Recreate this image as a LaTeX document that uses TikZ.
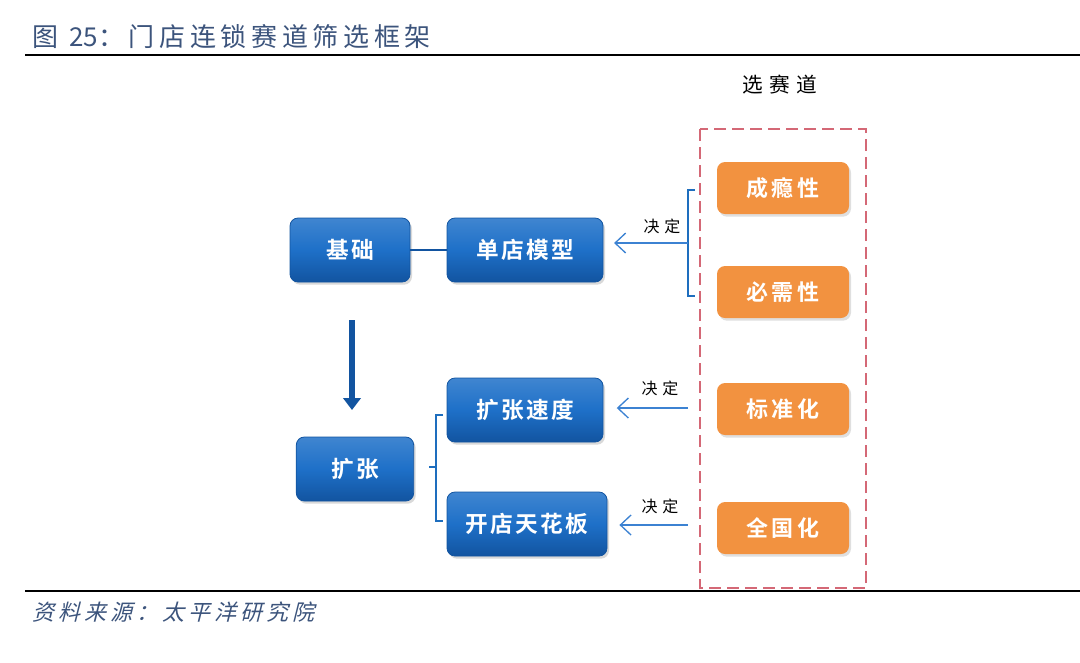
\documentclass[tikz,border=0pt]{standalone}
\usepackage{fontspec}
\setmainfont{Noto Sans CJK SC}
\newfontfamily\heifont{Noto Sans CJK SC}
\newfontfamily\titlefont[LetterSpace=18]{Noto Sans CJK SC}
\newfontfamily\labelfont[LetterSpace=30]{Noto Sans CJK SC}
\newfontfamily\boldfont[LetterSpace=10]{Noto Sans CJK SC Bold}
\newfontfamily\trackfont[LetterSpace=14]{Noto Sans CJK SC Bold}
\newfontfamily\slantfont[FakeSlant=0.25, LetterSpace=18]{Noto Sans CJK SC}
\usepackage{tikz}
\usetikzlibrary{arrows.meta}
\usetikzlibrary{positioning,calc,shadows}
\definecolor{titleblue}{RGB}{60,84,124}
\definecolor{boxblue}{RGB}{30,112,200}
\definecolor{boxdark}{RGB}{18,84,160}
\definecolor{boxorange}{RGB}{242,146,64}
\definecolor{frame}{RGB}{212,104,118}
\definecolor{linkblue}{RGB}{60,130,210}
\definecolor{bracketblue}{RGB}{30,110,190}
\tikzset{
    bluebox/.style={
        draw=boxdark,
        line width=0.6pt,
        rounded corners=6pt,
        top color=boxblue!85!white,
        bottom color=boxdark,
        middle color=boxblue,
        minimum width=117pt,
        minimum height=48pt,
        text=white,
        font=\boldfont\fontsize{17}{20}\selectfont,
        drop shadow={shadow xshift=1.5pt, shadow yshift=-2pt, opacity=0.3}
    },
    orangebox/.style={
        fill=boxorange,
        rounded corners=6pt,
        minimum width=99pt,
        minimum height=39pt,
        text=white,
        font=\trackfont\fontsize{16.5}{19}\selectfont,
        drop shadow={shadow xshift=1.5pt, shadow yshift=-2pt, opacity=0.25}
    },
    decide/.style={
        draw=linkblue,
        line width=1pt,
        -{Straight Barb[length=8pt, width=15pt]}
    },
    bracket/.style={
        draw=bracketblue,
        line width=2pt
    },
    decidelabel/.style={
        font=\labelfont\fontsize{12}{14}\selectfont,
        text=black
    }
}

\begin{document}
\begin{tikzpicture}[x=0.75pt, y=-0.75pt]
  \useasboundingbox (0,0) rectangle (1080,662);

  % Title and rules
  \node[anchor=west, text=titleblue, font=\titlefont\fontsize{19.5}{22}\selectfont] (title) at (28,37) {图 {\heifont 25}：门店连锁赛道筛选框架};
  \coordinate (topl) at (25,55);
  \coordinate (topr) at (1080,55);
  \draw[line width=1.5pt] (topl) -- (topr);
  \coordinate (botl) at (25,591);
  \coordinate (botr) at (1080,591);
  \draw[line width=1.5pt] (botl) -- (botr);
  \node[anchor=west, text=titleblue, font=\slantfont\fontsize{16.5}{18}\selectfont] (source) at (28,612) {资料来源：太平洋研究院};

  % Track selection frame
  \node[font=\labelfont\fontsize{15.5}{18}\selectfont] (track) at (780,85) {选赛道};
  \draw[frame, line width=1.6pt, dash pattern=on 9pt off 4.5pt] (700,129) rectangle (866,588);

  % Orange track boxes
  \node[orangebox] (addict) at (783,188) {成瘾性};
  \node[orangebox] (need) at (783,292) {必需性};
  \node[orangebox] (standard) at (783,409) {标准化};
  \node[orangebox] (national) at (783,528) {全国化};

  % Blue model boxes
  \node[bluebox, minimum width=90pt] (base) at (350,250) {基础};
  \node[bluebox] (model) at (525,250) {单店模型};
  \node[bluebox, minimum width=88pt] (expand) at (355,469) {扩张};
  \node[bluebox] (speed) at (525,410) {扩张速度};
  \node[bluebox, minimum width=120pt] (ceiling) at (527,524) {开店天花板};

  % Base to model
  \draw[boxdark, line width=1.5pt] (base) -- (model);

  % Down arrow from base to expansion
  \coordinate (downs) at (352,320);
  \coordinate (downe) at (352,410);
  \draw[boxdark, line width=4.5pt, -{Triangle[length=9pt, width=13pt]}] (downs) -- (downe);

  % Right bracket feeding the single store model
  \coordinate (rbtop) at (688,190);
  \coordinate (rbbot) at (688,296);
  \coordinate (rbmid) at (688,243);
  \draw[bracket] ($(rbtop)+(7,0)$) -- (rbtop) -- (rbbot) -- ($(rbbot)+(7,0)$);
  \draw[decide, shorten >=8pt] (rbmid) -- (model.east |- rbmid);
  \node[decidelabel] at (662,226) {决定};

  % Decide arrows for expansion
  \coordinate (sps) at (688,408);
  \draw[decide, shorten >=10pt] (sps) -- (speed.east |- sps);
  \node[decidelabel] at (660,388) {决定};
  \coordinate (ces) at (688,525);
  \draw[decide, shorten >=9pt] (ces) -- (ceiling.east |- ces);
  \node[decidelabel] at (660,506) {决定};

  % Left bracket from expansion
  \coordinate (lbtop) at (436,415);
  \coordinate (lbbot) at (436,521);
  \coordinate (lbmid) at (436,467);
  \draw[bracket] ($(lbtop)+(7,0)$) -- (lbtop) -- (lbbot) -- ($(lbbot)+(7,0)$);
  \draw[bracket] (lbmid) -- ($(lbmid)+(-7,0)$);
\end{tikzpicture}
\end{document}
